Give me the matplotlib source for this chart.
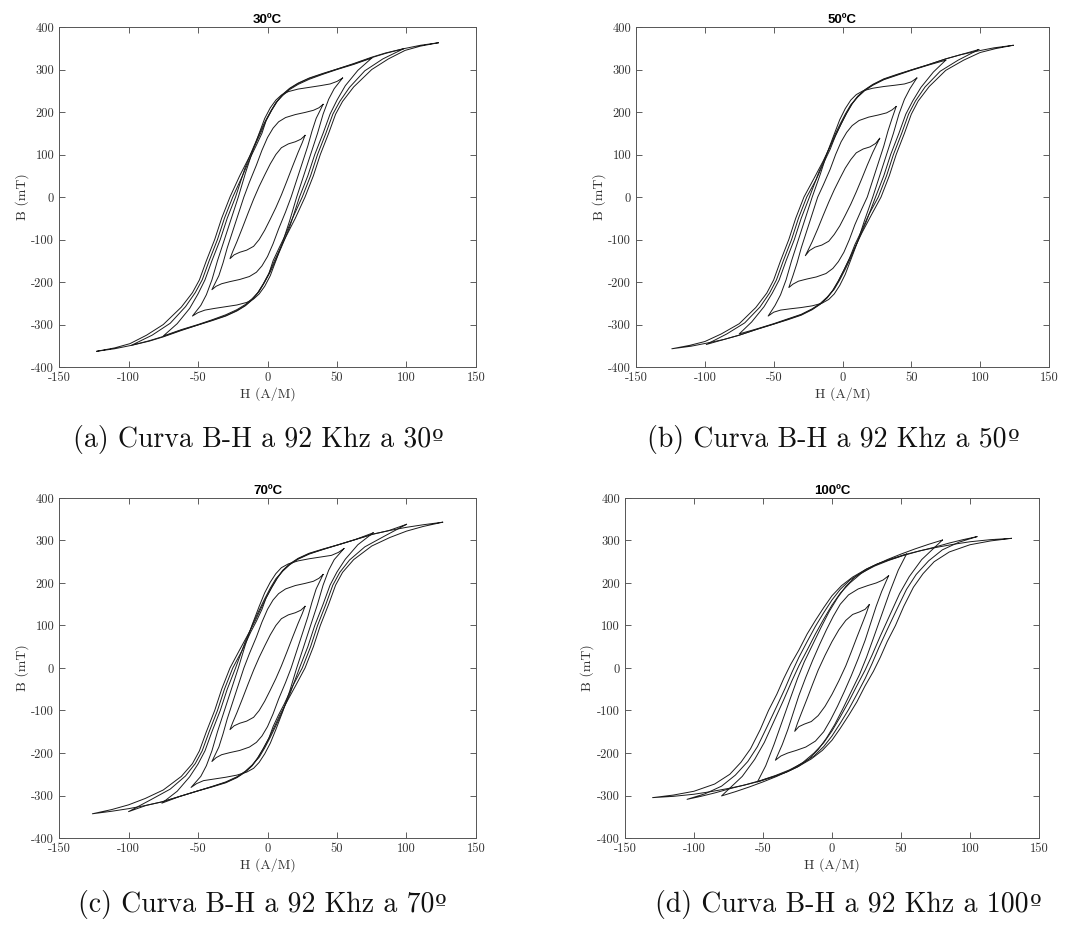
import matplotlib.pyplot as plt

# --- data ---
# each loop: descending branch from (+Hmax, +Bmax) to (-Hmax, -Bmax);
# the ascending branch is the same points mirrored through the origin
titles = ['30ºC', '50ºC', '70ºC', '100ºC']
captions = ['(a) Curva B-H a 92 Khz a 30', '(b) Curva B-H a 92 Khz a 50',
            '(c) Curva B-H a 92 Khz a 70', '(d) Curva B-H a 92 Khz a 100']
x_ticks = [-150, -100, -50, 0, 50, 100, 150]
y_ticks = [-400, -300, -200, -100, 0, 100, 200, 300, 400]

h30 = [
    [123, 110, 98, 85, 75, 62, 50, 40, 30, 22, 16, 11, 7, 3, -1, -5, -9, -13, -20, -27, -33, -38, -44, -49, -54, -62, -75, -87, -99, -110, -123],
    [98, 85, 75, 62, 50, 40, 30, 22, 16, 11, 7, 3, -1, -4, -8, -12, -18, -25, -31, -36, -42, -47, -52, -59, -70, -83, -98],
    [75, 62, 50, 40, 30, 22, 16, 11, 6, 2, -2, -6, -10, -16, -23, -29, -34, -40, -45, -50, -56, -65, -75],
    [54, 50, 45, 38, 30, 22, 15, 10, 6, 2, -2, -6, -11, -16, -21, -26, -31, -36, -40, -44, -48, -54],
    [40, 37, 33, 27, 20, 13, 8, 4, 0, -4, -8, -13, -17, -21, -25, -29, -32, -35, -40],
    [27, 24, 20, 15, 10, 6, 2, -2, -6, -10, -14, -18, -22, -25, -27],
]
b30 = [
    [363, 357, 349, 339, 329, 314, 301, 291, 280, 268, 256, 242, 226, 205, 180, 150, 122, 95, 50, 0, -50, -100, -150, -195, -225, -259, -300, -325, -345, -355, -363],
    [349, 338, 328, 313, 301, 290, 279, 267, 255, 241, 225, 204, 180, 150, 122, 95, 50, 0, -50, -100, -150, -195, -225, -258, -297, -325, -349],
    [327, 312, 300, 289, 277, 265, 253, 239, 222, 200, 176, 148, 118, 70, 0, -50, -100, -150, -195, -228, -262, -298, -327],
    [280, 272, 266, 262, 258, 254, 248, 240, 228, 210, 185, 150, 105, 55, 0, -50, -100, -150, -195, -230, -255, -280],
    [218, 210, 204, 199, 194, 187, 177, 162, 140, 110, 75, 35, 0, -40, -80, -120, -155, -185, -218],
    [145, 136, 130, 125, 116, 100, 78, 52, 25, -5, -38, -72, -105, -128, -145],
]

h50 = [
    [124, 110, 99, 86, 75, 62, 50, 40, 30, 22, 16, 11, 7, 3, -1, -5, -10, -14, -21, -28, -34, -39, -45, -50, -55, -63, -75, -88, -100, -111, -124],
    [99, 86, 75, 62, 50, 40, 30, 22, 16, 11, 7, 3, -1, -5, -9, -13, -19, -26, -32, -37, -43, -48, -53, -60, -71, -84, -99],
    [75, 62, 50, 40, 30, 22, 16, 11, 6, 2, -2, -6, -10, -17, -24, -30, -35, -41, -46, -51, -57, -66, -75],
    [54, 50, 45, 38, 30, 22, 15, 10, 6, 2, -2, -6, -11, -16, -22, -27, -32, -37, -41, -45, -49, -54],
    [39, 36, 32, 26, 19, 12, 7, 3, -1, -5, -9, -14, -18, -22, -26, -30, -33, -36, -39],
    [27, 24, 20, 15, 10, 6, 2, -2, -6, -10, -14, -18, -22, -25, -27],
]
b50 = [
    [357, 351, 344, 335, 325, 311, 299, 289, 278, 265, 252, 237, 220, 198, 172, 145, 112, 85, 42, 0, -50, -100, -150, -195, -226, -260, -298, -322, -340, -349, -357],
    [347, 335, 325, 311, 299, 288, 277, 264, 251, 236, 219, 197, 172, 145, 112, 85, 42, 0, -50, -100, -150, -195, -226, -259, -296, -322, -347],
    [322, 310, 298, 287, 276, 263, 250, 235, 217, 195, 170, 143, 112, 60, 0, -50, -100, -150, -195, -226, -258, -294, -322],
    [280, 271, 266, 263, 260, 256, 250, 241, 228, 208, 182, 148, 105, 55, 0, -50, -100, -150, -195, -230, -255, -280],
    [213, 205, 198, 193, 188, 180, 168, 152, 130, 100, 65, 28, 0, -40, -80, -120, -155, -185, -213],
    [138, 126, 118, 113, 104, 88, 68, 43, 17, -12, -43, -75, -105, -125, -138],
]

h70 = [
    [126, 112, 100, 87, 76, 63, 51, 40, 30, 22, 16, 11, 7, 3, -1, -5, -9, -13, -20, -27, -33, -38, -44, -49, -54, -62, -75, -88, -100, -112, -126],
    [100, 87, 76, 63, 51, 40, 30, 22, 16, 11, 7, 3, -1, -4, -8, -12, -18, -25, -31, -36, -42, -47, -52, -59, -70, -84, -100],
    [76, 63, 51, 40, 30, 22, 16, 11, 6, 2, -2, -6, -10, -16, -23, -29, -34, -40, -45, -50, -56, -65, -76],
    [55, 51, 46, 38, 30, 22, 15, 10, 6, 2, -2, -6, -11, -16, -21, -26, -31, -36, -40, -44, -48, -55],
    [40, 37, 33, 27, 20, 13, 8, 4, 0, -4, -8, -13, -17, -21, -25, -29, -32, -35, -40],
    [27, 24, 20, 15, 10, 6, 2, -2, -6, -10, -14, -18, -22, -25, -27],
]
b70 = [
    [343, 337, 331, 323, 315, 302, 290, 280, 270, 258, 245, 230, 212, 190, 165, 138, 110, 85, 43, 0, -50, -100, -150, -195, -225, -255, -287, -307, -322, -333, -343],
    [338, 323, 315, 302, 290, 279, 269, 257, 244, 229, 211, 189, 165, 138, 110, 85, 43, 0, -50, -100, -150, -195, -225, -254, -285, -310, -338],
    [318, 302, 290, 279, 268, 256, 243, 228, 210, 188, 163, 136, 108, 62, 0, -50, -100, -150, -195, -226, -256, -290, -318],
    [281, 272, 265, 261, 257, 252, 245, 236, 222, 202, 177, 145, 102, 54, 0, -50, -100, -150, -195, -230, -255, -281],
    [220, 211, 204, 199, 194, 186, 175, 160, 138, 108, 73, 34, 0, -40, -80, -120, -155, -186, -220],
    [145, 136, 130, 125, 116, 100, 78, 52, 25, -5, -38, -72, -105, -128, -145],
]

h100 = [
    [130, 115, 100, 88, 76, 64, 53, 43, 33, 24, 15, 7, 0, -6, -12, -18, -24, -30, -35, -40, -46, -52, -59, -66, -74, -85, -100, -115, -130],
    [105, 95, 85, 74, 62, 51, 41, 31, 22, 13, 6, 0, -6, -12, -18, -24, -29, -34, -40, -47, -54, -61, -70, -80, -92, -105],
    [80, 70, 60, 50, 40, 30, 21, 13, 6, 0, -6, -12, -18, -24, -29, -35, -42, -49, -56, -65, -80],
    [54, 48, 41, 33, 25, 17, 10, 4, -2, -8, -14, -20, -25, -30, -36, -42, -48, -54],
    [41, 37, 32, 26, 19, 12, 6, 1, -4, -9, -14, -19, -24, -28, -32, -36, -41],
    [27, 24, 20, 15, 10, 5, 0, -5, -10, -14, -18, -22, -25, -27],
]
b100 = [
    [305, 302, 297, 291, 284, 276, 267, 257, 245, 231, 214, 194, 170, 142, 112, 80, 42, 8, -25, -62, -100, -145, -190, -222, -250, -273, -290, -299, -305],
    [309, 302, 294, 284, 274, 264, 253, 240, 225, 207, 185, 160, 130, 98, 62, 25, -10, -48, -90, -138, -185, -220, -252, -278, -296, -309],
    [301, 291, 280, 268, 255, 240, 222, 200, 176, 148, 115, 80, 42, 5, -30, -75, -125, -175, -215, -255, -301],
    [268, 261, 254, 245, 233, 215, 192, 165, 133, 95, 55, 15, -25, -70, -125, -180, -230, -268],
    [217, 207, 200, 194, 186, 172, 150, 122, 90, 55, 18, -22, -65, -105, -145, -180, -217],
    [149, 138, 132, 126, 112, 90, 62, 30, -5, -38, -72, -105, -130, -149],
]

h_sets = [h30, h50, h70, h100]
b_sets = [b30, b50, b70, b100]


def main():
    fig = plt.figure(figsize=(10.85, 9.38), dpi=100)

    # axes rectangles in figure fractions (left, bottom, width, height)
    rects = [
        [0.0544, 0.6087, 0.3843, 0.3625],
        [0.5862, 0.6087, 0.3806, 0.3625],
        [0.0544, 0.1066, 0.3843, 0.3625],
        [0.5760, 0.1066, 0.3816, 0.3625],
    ]
    # caption centre x and baseline y (pixels from top-left)
    cap_x = [258, 833, 262, 848]
    cap_y = [447, 447, 912, 912]

    for i in range(4):
        ax = fig.add_axes(rects[i])
        for h, b in zip(h_sets[i], b_sets[i]):
            hh = h + [-v for v in h]
            bb = b + [-v for v in b]
            ax.plot(hh, bb, color='#1a1a1a', lw=0.7)

        ax.set_xlim(-150, 150)
        ax.set_ylim(-400, 400)
        ax.set_xticks(x_ticks)
        ax.set_yticks(y_ticks)
        ax.set_xticklabels([str(v) for v in x_ticks], fontfamily='cmr10', fontsize=9, color='#333333')
        ax.set_yticklabels([str(v) for v in y_ticks], fontfamily='cmr10', fontsize=9, color='#333333')
        ax.tick_params(direction='in', top=True, right=True, length=4, width=0.6, color='#444444')
        for sp in ax.spines.values():
            sp.set_color('#555555')
            sp.set_linewidth(0.7)

        ax.set_xlabel('H (A/M)', fontfamily='cmr10', fontsize=10, color='#333333', labelpad=2)
        ax.set_ylabel('B (mT)', fontfamily='cmr10', fontsize=10, color='#333333', labelpad=2)
        ax.set_title(titles[i], fontfamily='Liberation Sans', fontweight='bold', fontsize=9.5, pad=3)

    # captions: main text in cmr10, ordinal sign in DejaVu Serif
    renderer = fig.canvas.get_renderer()
    W, H = fig.bbox.width, fig.bbox.height
    for i in range(4):
        t = fig.text(0, 0, captions[i], ha='left', va='baseline',
                     fontfamily='cmr10', fontsize=20, color='#111111')
        o = fig.text(0, 0, 'º', ha='left', va='baseline',
                     fontfamily='DejaVu Serif', fontsize=18, color='#111111')
        w1 = t.get_window_extent(renderer).width
        w2 = o.get_window_extent(renderer).width
        x0 = cap_x[i] - (w1 + w2) / 2
        yb = 1 - cap_y[i] / H
        t.set_position((x0 / W, yb))
        o.set_position(((x0 + w1 + 1) / W, yb))

    plt.savefig('out.png', dpi=100)


if __name__ == "__main__":
    main()
